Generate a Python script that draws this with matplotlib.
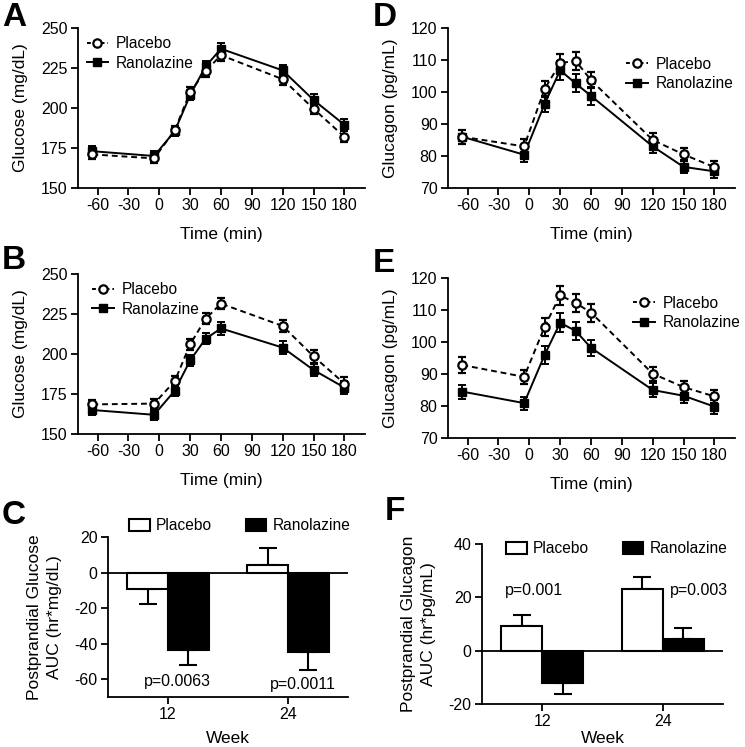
import numpy as np
import matplotlib
matplotlib.use('Agg')
import matplotlib.pyplot as plt
from matplotlib.patches import Patch
from matplotlib.lines import Line2D

plt.rcParams['font.family'] = ['Liberation Sans', 'DejaVu Sans']
plt.rcParams['axes.unicode_minus'] = False

# time points (min)
t = [-65, -5, 15, 30, 45, 60, 120, 150, 180]

# A: glucose, week 12
glu12_pla = [171, 168.5, 186, 210, 223, 233, 218, 199.5, 182]
glu12_pla_se = [3, 3, 3, 3, 3.5, 3.5, 3.5, 3.5, 3.5]
glu12_ran = [173, 170, 185.5, 208, 226, 237, 223.5, 205, 189.5]
glu12_ran_se = [3, 3, 3, 3, 3.5, 3.5, 3.5, 3.5, 3.5]

# B: glucose, week 24
glu24_pla = [168.5, 169, 183, 206, 222, 231.5, 217.5, 198.5, 181.5]
glu24_pla_se = [3, 3, 3, 3.5, 3.5, 3.5, 3.5, 4, 4]
glu24_ran = [165, 162, 177, 196, 209.5, 216, 204, 190, 179]
glu24_ran_se = [3, 3, 3.5, 3.5, 3.5, 4, 4, 4, 4]

# D: glucagon, week 12
gcg12_pla = [86, 83, 101, 109, 109.8, 103.7, 85, 80.5, 76.5]
gcg12_pla_se = [2.2, 2.2, 2.5, 3, 2.8, 2.5, 2.2, 2, 2]
gcg12_ran = [86, 80.4, 96.3, 106.8, 102.7, 98.8, 83, 76.6, 75.2]
gcg12_ran_se = [2.2, 2.2, 2.5, 3, 2.8, 2.8, 2.2, 2, 2]

# E: glucagon, week 24
gcg24_pla = [92.8, 89.1, 104.8, 114.6, 112.2, 109.2, 90.1, 85.9, 83]
gcg24_pla_se = [2.5, 2.2, 2.8, 3, 2.8, 2.8, 2.2, 2, 2]
gcg24_ran = [84.5, 80.9, 96, 106, 103.5, 98.2, 85, 83.2, 79.8]
gcg24_ran_se = [2.2, 2, 2.8, 3, 2.8, 2.5, 2.2, 2.2, 2.2]

# C / F: AUC bars
weeks = ['12', '24']
auc_glu_pla = [-9, 4]
auc_glu_pla_se = [8.8, 10]
auc_glu_ran = [-43.8, -44.6]
auc_glu_ran_se = [8, 10]
auc_glu_p = ['p=0.0063', 'p=0.0011']

auc_gcg_pla = [9.2, 23]
auc_gcg_pla_se = [4.2, 4.6]
auc_gcg_ran = [-12.2, 4.2]
auc_gcg_ran_se = [4.2, 4.4]
auc_gcg_p = ['p=0.001', 'p=0.003']

W, H = 745, 747
fig = plt.figure(figsize=(W / 100, H / 100), dpi=100)


def px_axes(l, t_, r, b):
    return fig.add_axes([l / W, 1 - b / H, (r - l) / W, (b - t_) / H])


def style(ax):
    for s in ['top', 'right']:
        ax.spines[s].set_visible(False)
    for s in ['left', 'bottom']:
        ax.spines[s].set_linewidth(1.3)
    ax.tick_params(width=1.3, length=5, labelsize=11.5, direction='out', pad=2.5)


def line_panel(ax, pla, pla_se, ran, ran_se, ylim, yticks, ylabel, legpos):
    ax.errorbar(t, ran, yerr=ran_se, color='k', lw=1.4, marker='s', ms=6,
                capsize=3, capthick=1.4, elinewidth=1.4, label='Ranolazine', zorder=3)
    ax.errorbar(t, pla, yerr=pla_se, color='k', lw=1.4, ls=(0, (3, 2)), marker='o', ms=6,
                mfc='white', mew=1.6, capsize=3, capthick=1.4, elinewidth=1.4,
                label='Placebo', zorder=4)
    ax.set_xlim(-79, 200)
    ax.set_xticks([-60, -30, 0, 30, 60, 90, 120, 150, 180])
    ax.set_ylim(*ylim)
    ax.set_yticks(yticks)
    ax.set_xlabel('Time (min)', fontsize=12.5, labelpad=10)
    ax.set_ylabel(ylabel, fontsize=12.5, labelpad=9)
    style(ax)
    h = [Line2D([], [], color='k', lw=1.4, ls=(0, (2, 1.5)), marker='o', ms=6, mfc='white', mew=1.6),
         Line2D([], [], color='k', lw=1.4, marker='s', ms=6)]
    ax.legend(h, ['Placebo', 'Ranolazine'], loc='upper left', bbox_to_anchor=legpos,
              frameon=False, fontsize=11.2, handlelength=1.4, handletextpad=0.5,
              labelspacing=0.3, borderaxespad=0, borderpad=0)


def bar_panel(ax, pla, pla_se, ran, ran_se, ptxt, ppos, ylim, yticks, ylabel, legpos, xpad):
    x = np.arange(len(weeks))
    w = 0.34
    ax.axhline(0, color='k', lw=1.3, zorder=1)
    ax.bar(x - w / 2, pla, w, color='white', edgecolor='k', lw=1.5, zorder=2)
    ax.bar(x + w / 2, ran, w, color='black', edgecolor='k', lw=1.5, zorder=2)
    # one-sided error bars, away from zero
    for xs, vals, errs in [(x - w / 2, pla, pla_se), (x + w / 2, ran, ran_se)]:
        lo = [e if v < 0 else 0 for v, e in zip(vals, errs)]
        hi = [e if v >= 0 else 0 for v, e in zip(vals, errs)]
        ax.errorbar(xs, vals, yerr=[lo, hi], fmt='none', ecolor='k', elinewidth=1.5,
                    capsize=6.5, capthick=1.5, zorder=1.5)
    for (px, py), s in zip(ppos, ptxt):
        ax.text(px, py, s, ha='center', va='center', fontsize=11.5)
    ax.set_xlim(-0.5, 1.5)
    ax.set_xticks(x)
    ax.set_xticklabels(weeks)
    ax.set_ylim(*ylim)
    ax.set_yticks(yticks)
    ax.set_xlabel('Week', fontsize=12.5, labelpad=xpad)
    ax.set_ylabel(ylabel, fontsize=12.5, labelpad=9, linespacing=1.4)
    style(ax)
    h = [Patch(facecolor='white', edgecolor='k', lw=1.5), Patch(facecolor='black', edgecolor='k', lw=1.5)]
    ax.legend(h, ['Placebo', 'Ranolazine'], loc='center', bbox_to_anchor=legpos, ncol=2,
              frameon=False, fontsize=11.2, handlelength=1.3, handleheight=0.75,
              handletextpad=0.4, columnspacing=2.2, borderaxespad=0, borderpad=0)


axA = px_axes(78, 28, 365, 188)
line_panel(axA, glu12_pla, glu12_pla_se, glu12_ran, glu12_ran_se, (150, 250),
           [150, 175, 200, 225, 250], 'Glucose (mg/dL)', (0.03, 0.95))
axB = px_axes(78, 274, 365, 434)
line_panel(axB, glu24_pla, glu24_pla_se, glu24_ran, glu24_ran_se, (150, 250),
           [150, 175, 200, 225, 250], 'Glucose (mg/dL)', (0.05, 0.95))
axD = px_axes(448, 28, 735, 188)
line_panel(axD, gcg12_pla, gcg12_pla_se, gcg12_ran, gcg12_ran_se, (70, 120),
           [70, 80, 90, 100, 110, 120], 'Glucagon (pg/mL)', (0.62, 0.82))
axE = px_axes(448, 278, 735, 438)
line_panel(axE, gcg24_pla, gcg24_pla_se, gcg24_ran, gcg24_ran_se, (70, 120),
           [70, 80, 90, 100, 110, 120], 'Glucagon (pg/mL)', (0.645, 0.89))

axC = px_axes(108, 537, 348, 697)
bar_panel(axC, auc_glu_pla, auc_glu_pla_se, auc_glu_ran, auc_glu_ran_se, auc_glu_p,
          [(0.08, -61.5), (1.12, -63)], (-70, 20), [-60, -40, -20, 0, 20],
          'Postprandial Glucose\nAUC (hr*mg/dL)', (0.55, 1.07), 6)
axF = px_axes(482, 544, 723, 704)
bar_panel(axF, auc_gcg_pla, auc_gcg_pla_se, auc_gcg_ran, auc_gcg_ran_se, auc_gcg_p,
          [(-0.07, 22.5), (1.3, 22.5)], (-20, 40), [-20, 0, 20, 40],
          'Postprandial Glucagon\nAUC (hr*pg/mL)', (0.56, 0.97), 1)

for lab, x, y in [('A', 2, 2), ('B', 2, 245), ('C', 2, 500), ('D', 373, 2), ('E', 373, 248), ('F', 385, 496)]:
    fig.text(x / W, 1 - y / H, lab, fontsize=24, fontweight='bold', va='top', ha='left')

fig.savefig('out.png', dpi=100)
